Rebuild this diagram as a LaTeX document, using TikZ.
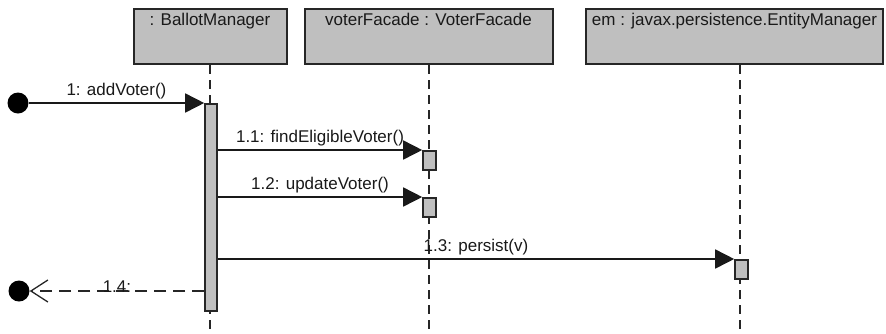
\documentclass[tikz,border=0pt]{standalone}
\usepackage{fontspec}
\setmainfont{Liberation Sans}
\usetikzlibrary{arrows.meta}
\begin{document}
\begin{tikzpicture}[x=1pt,y=-1pt]
		        \tikzstyle{object}=[draw=black!85,line width=2pt,fill=black!25,text=black!90,inner xsep=2pt,inner ysep=4pt,text height=12pt,text depth=35pt,font=\fontsize{17}{20}\selectfont]
		        \tikzstyle{bar}=[draw=black!85,line width=1.6pt,fill=black!25,anchor=north,inner sep=0pt,minimum width=12pt]
		        \tikzstyle{lifeline}=[draw=black!85,line width=2pt,dash pattern=on 9pt off 6pt]
		        \tikzstyle{msg}=[draw=black!90,line width=1.6pt,-{Triangle[length=19pt,width=19pt]}]
		        \tikzstyle{ret}=[draw=black!85,line width=1.6pt,dash pattern=on 12pt off 7pt,-{Straight Barb[length=17pt,width=22pt,line width=1.3pt]}]
		        \tikzstyle{endpoint}=[circle,fill=black,inner sep=0pt,minimum size=21pt]
		        \tikzstyle{lbl}=[text=black!90,font=\fontsize{17}{20}\selectfont]
		       \useasboundingbox (0,0) rectangle (886,333);
		       \begin{scope}
			        % objects
			        \node [object,minimum width=153pt] (bm) at (210,36.5) {: BallotManager};
			        \node [object,minimum width=248pt] (vf) at (428.5,36.5) {voterFacade : VoterFacade};
			        \node [object,minimum width=297pt] (em) at (734.5,36.5) {em : javax.persistence.EntityManager};
			        \coordinate (bmend) at (210,333);
			        \coordinate (vfend) at (428.5,333);
			        \coordinate (emend) at (740,333);
			        \path[lifeline] (bm.south) -- (bmend);
			        \path[lifeline] (vf.south) -- (vfend);
			        \path[lifeline] (em.south -| emend) -- (emend);
			        % activations
			        \node [bar,minimum height=207pt] (a0) at (211,103) {};
			        \node [bar,minimum width=13pt,minimum height=19pt] (a1) at (429.5,150) {};
			        \node [bar,minimum width=13pt,minimum height=19pt] (a2) at (429.5,197) {};
			        \node [bar,minimum width=13pt,minimum height=19pt] (a3) at (741.5,259) {};
			        % messages
			        \node [endpoint] (start) at (18,103) {};
			        \node [endpoint] (stop) at (19,291) {};
			        \path[msg] (start) -- node[lbl,above] {1: addVoter()} (a0.north west);
			        \path[msg] (a0.east |- a1.north) -- node[lbl,above] {1.1: findEligibleVoter()} (a1.north west);
			        \path[msg] (a0.east |- a2.north) -- node[lbl,above] {1.2: updateVoter()} (a2.north west);
			        \path[msg] (a0.east |- a3.north) -- node[lbl,above] {1.3: persist(v)} (a3.north west);
			        \path[ret] (a0.west |- stop) -- node[lbl,above,inner sep=0pt,yshift=-2pt] {1.4:} (stop);
       			 \end{scope}
      		\end{tikzpicture}
\end{document}
